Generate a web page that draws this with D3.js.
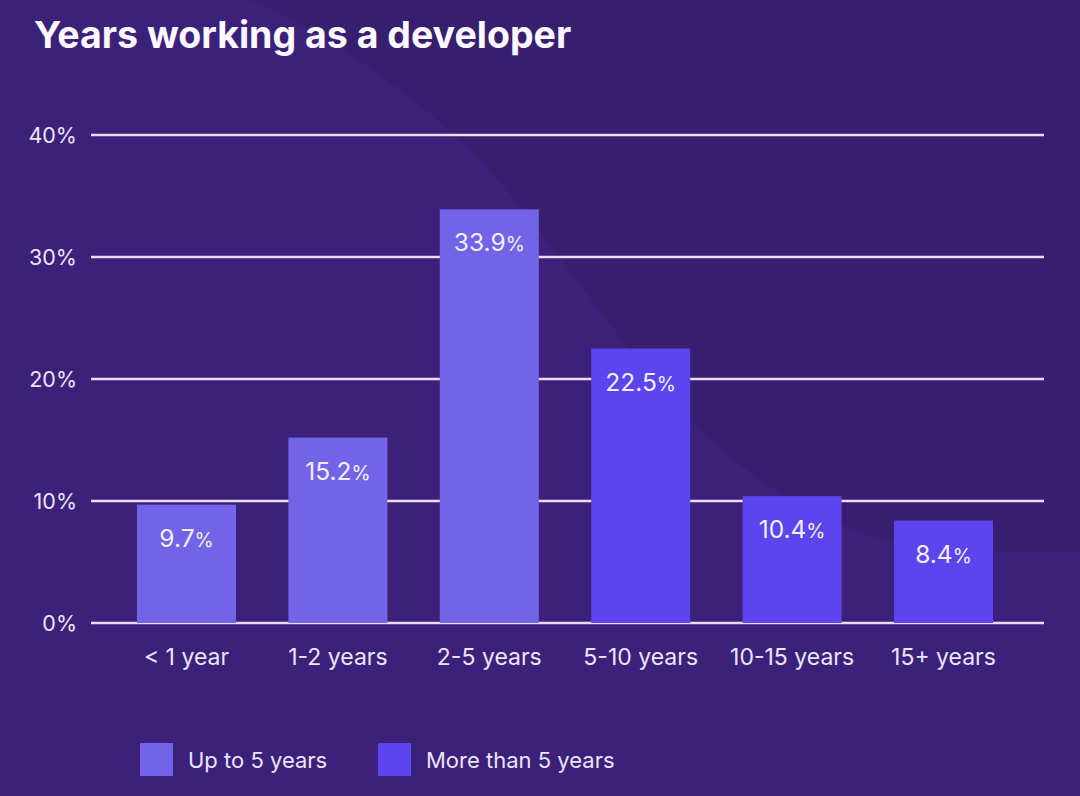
<!DOCTYPE html>
<html><head><meta charset="utf-8">
<script src="https://cdn.jsdelivr.net/npm/d3@7"></script>
<style>html,body{margin:0;padding:0;background:#391f71;}svg{display:block;}</style>
</head><body>
<svg id="chart" width="1080" height="796"></svg>
<script>
const categories = ["< 1 year", "1-2 years", "2-5 years", "5-10 years", "10-15 years", "15+ years"];
const values = [9.7, 15.2, 33.9, 22.5, 10.4, 8.4];
const groups = ["Up to 5 years", "Up to 5 years", "Up to 5 years", "More than 5 years", "More than 5 years", "More than 5 years"];
const legendLabels = ["Up to 5 years", "More than 5 years"];
const yTicks = [0, 10, 20, 30, 40];
const title = "Years working as a developer";

const W = 1080, H = 796;
const svg = d3.select("#chart");
const FONT = "Inter, 'Noto Sans', sans-serif";

// background
svg.append("rect").attr("width", W).attr("height", H).attr("fill", "#3b2179");
svg.append("path")
  .attr("d", "M250,0 C300,20 400,80 470,150 C540,220 600,320 680,410 C760,490 840,545 960,550 C1010,552 1050,552 1080,552 L1080,0 Z")
  .attr("fill", "#381e6e");

const x = d3.scaleBand().domain(categories).range([110.8, 1019.2]).paddingInner(0.346).paddingOuter(0.173);
const y = d3.scaleLinear().domain([0, 40]).range([623, 135]);
const color = d3.scaleOrdinal().domain(legendLabels).range(["#7364e7", "#5c45ee"]);

// gridlines
svg.append("g").selectAll("line").data(yTicks).join("line")
  .attr("x1", 91).attr("x2", 1044)
  .attr("y1", d => y(d)).attr("y2", d => y(d))
  .attr("stroke", "#ecd9fb").attr("stroke-width", 2.5);

// y tick labels
svg.append("g").selectAll("text").data(yTicks).join("text")
  .attr("x", 77).attr("y", d => y(d) + 7.5)
  .attr("text-anchor", "end")
  .attr("fill", "#ece4fa").attr("font-family", FONT).attr("font-size", 21.5)
  .text(d => d + "%");

// bars
svg.append("g").selectAll("rect").data(values).join("rect")
  .attr("x", (d, i) => x(categories[i]))
  .attr("width", x.bandwidth())
  .attr("y", d => y(d))
  .attr("height", d => y(0) - y(d))
  .attr("fill", (d, i) => color(groups[i]));

// value labels
const vl = svg.append("g").selectAll("text").data(values).join("text")
  .attr("x", (d, i) => x(categories[i]) + x.bandwidth() / 2)
  .attr("y", d => y(d) + 42)
  .attr("text-anchor", "middle")
  .attr("fill", "#f3eefc").attr("font-family", FONT).attr("font-size", 24.5);
vl.append("tspan").text(d => d.toFixed(1));
vl.append("tspan").attr("font-size", 19.5).text("%");

// category labels
svg.append("g").selectAll("text").data(categories).join("text")
  .attr("x", d => x(d) + x.bandwidth() / 2)
  .attr("y", 665)
  .attr("text-anchor", "middle")
  .attr("fill", "#ece4fa").attr("font-family", FONT).attr("font-size", 23)
  .text(d => d);

// title
svg.append("text").attr("x", 34).attr("y", 48)
  .attr("fill", "#fbf8ff").attr("font-family", FONT).attr("font-weight", 700)
  .attr("font-size", 37.5)
  .text(title);

// legend
const legendX = [140, 378];
const lg = svg.append("g").selectAll("g").data(legendLabels).join("g")
  .attr("transform", (d, i) => `translate(${legendX[i]},743)`);
lg.append("rect").attr("width", 33).attr("height", 33).attr("fill", d => color(d));
lg.append("text").attr("x", 48).attr("y", 25)
  .attr("fill", "#ece4fa").attr("font-family", FONT).attr("font-size", 22)
  .text(d => d);
</script>
</body></html>
